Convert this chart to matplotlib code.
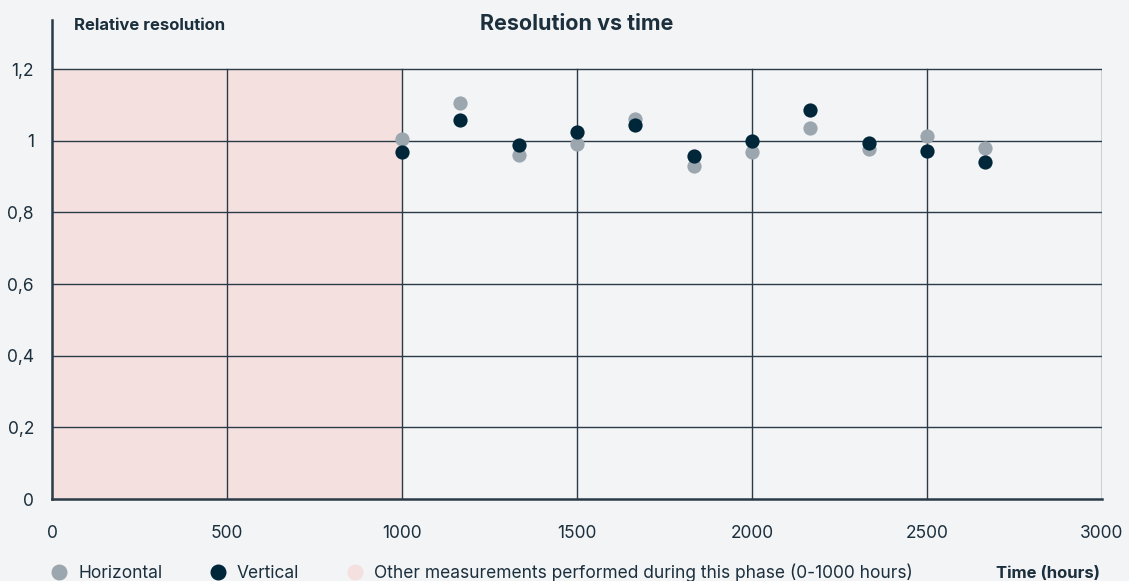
import matplotlib
matplotlib.use("Agg")
import matplotlib.pyplot as plt
from matplotlib.lines import Line2D

plt.rcParams['font.family'] = ['Inter', 'DejaVu Sans']

# Data
hours = [1000, 1167, 1333, 1500, 1667, 1833, 2000, 2167, 2333, 2500, 2667]
horizontal = [1.006, 1.106, 0.960, 0.990, 1.060, 0.929, 0.968, 1.036, 0.977, 1.014, 0.979]
vertical = [0.968, 1.058, 0.987, 1.025, 1.044, 0.956, 0.999, 1.086, 0.995, 0.972, 0.941]
xticks = [0, 500, 1000, 1500, 2000, 2500, 3000]
yticks = [0, 0.2, 0.4, 0.6, 0.8, 1.0, 1.2]
ytick_labels = ["0", "0,2", "0,4", "0,6", "0,8", "1", "1,2"]
phase = (0, 1000)

BG = "#f3f4f6"
DARK = "#00263a"
GRAY = "#9ba6ae"
PINK = "#f4e1df"
GRID = "#2b3a47"
TXT = "#1b2f3c"

W, H = 1129, 581
fig = plt.figure(figsize=(W / 100, H / 100), dpi=100, facecolor=BG)
ax = fig.add_axes([52 / W, 1 - 499 / H, 1050 / W, 479 / H], facecolor=BG)

ymax_top = 1.337
ax.set_xlim(0, 3000)
ax.set_ylim(0, ymax_top)

# phase shading
ax.fill_between(list(phase), 0, yticks[-1], color=PINK, zorder=0, linewidth=0)

# grid
for yv in yticks[1:]:
    ax.plot([xticks[0], xticks[-1]], [yv, yv], color=GRID, lw=1.0, zorder=1)
for xv in xticks[1:]:
    ax.plot([xv, xv], [0, yticks[-1]], color=GRID, lw=1.0, zorder=1)

ax.scatter(hours, horizontal, s=105, color=GRAY, zorder=3, linewidths=0)
ax.scatter(hours, vertical, s=105, color=DARK, zorder=4, linewidths=0)

for s in ['top', 'right']:
    ax.spines[s].set_visible(False)
for s in ['left', 'bottom']:
    ax.spines[s].set_color(GRID)
    ax.spines[s].set_linewidth(1.8)

ax.set_xticks(xticks)
ax.set_xticklabels([str(x) for x in xticks])
ax.set_yticks(yticks)
ax.set_yticklabels(ytick_labels)
ax.tick_params(axis='both', length=0, labelsize=12.5, labelcolor=TXT)
ax.tick_params(axis='x', pad=18.5)
ax.tick_params(axis='y', pad=13)

fig.text(577 / W, 1 - 23.5 / H, "Resolution vs time", ha='center', va='center',
         fontsize=15.5, fontweight='bold', color=TXT)
fig.text(74 / W, 1 - 25 / H, "Relative resolution", ha='left', va='center',
         fontsize=12, fontweight='bold', color=TXT)
fig.text(1100 / W, 1 - 573 / H, "Time (hours)", ha='right', va='center',
         fontsize=12, fontweight='bold', color=TXT)

handles = [
    Line2D([], [], marker='o', ls='', color=GRAY, markersize=10.5),
    Line2D([], [], marker='o', ls='', color=DARK, markersize=10.5),
    Line2D([], [], marker='o', ls='', color=PINK, markersize=10.5),
]
labels = ["Horizontal", "Vertical", "Other measurements performed during this phase (0-1000 hours)"]
leg = fig.legend(handles, labels, loc='center left', bbox_to_anchor=(48.6 / W, 1 - 573 / H),
                 ncol=3, frameon=False, fontsize=12.5, handletextpad=0.5,
                 columnspacing=2.6, handlelength=1.2, borderaxespad=0, borderpad=0)
for t in leg.get_texts():
    t.set_color(TXT)

fig.savefig("out.png", dpi=100, facecolor=BG)
